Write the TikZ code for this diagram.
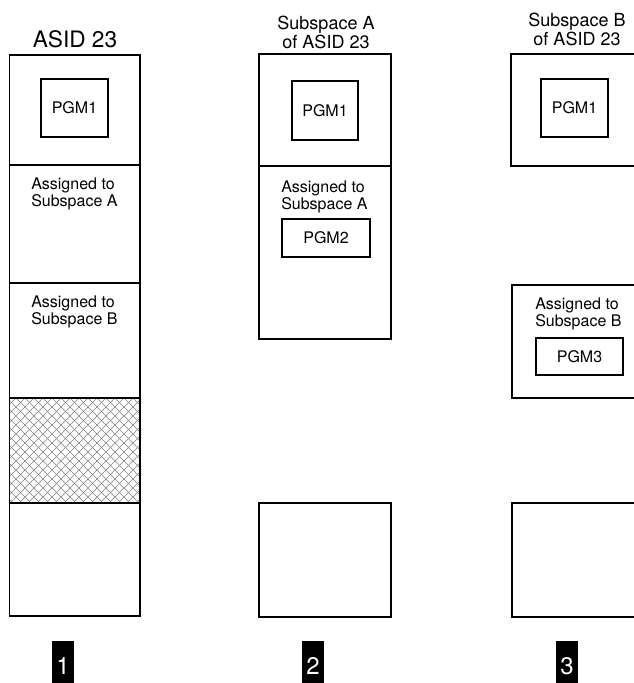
\documentclass[tikz,border=0pt]{standalone}
\usepackage{fontspec}
\setmainfont{TeX Gyre Heros}
\usepackage{tikz}

\begin{document}
\begin{tikzpicture}[x=0.75pt, y=-0.75pt,
    frame/.style={line width=1.1pt},
    hatch/.style={black!50, line width=0.45pt},
    pgmbox/.style={draw, line width=1pt, inner sep=0pt, font=\fontsize{12}{14}\selectfont},
    assigned/.style={anchor=north west, align=left, inner sep=0pt, font=\fontsize{12}{12.75}\selectfont},
    heading/.style={anchor=north, align=center, inner sep=0pt, font=\fontsize{13.5}{12.5}\selectfont},
    callout/.style={fill=black, text=white, inner sep=0pt, minimum width=16.5pt,
      minimum height=37.5pt, font=\fontsize{18}{18}\selectfont}]
  \useasboundingbox (0,0) rectangle (634,683);
  \clip (0,0) rectangle (634,683);
  % ---------------- column 1: ASID 23 ----------------
  \node[anchor=north, inner sep=0pt, font=\fontsize{17}{18}\selectfont] (asid) at (75,30) {ASID 23};
  \begin{scope}
    \clip (9.5,398) rectangle (140,503);
    \foreach \i in {-110,-101,...,250} {
      \draw[hatch] (\i,398) -- ++(105,105);
      \draw[hatch] (\i,398) -- ++(-105,105);
    }
  \end{scope}
  \draw[frame] (9.5,55) rectangle (140,616);
  \draw[frame] (9.5,165) -- (140,165);
  \draw[frame] (9.5,283) -- (140,283);
  \draw[frame] (9.5,398) -- (140,398);
  \draw[frame] (9.5,503) -- (140,503);
  \node[pgmbox, minimum width=50.25pt, minimum height=43.5pt] (pgmOne) at (74.5,108) {PGM1};
  \node[assigned] (asgA) at (31,178) {Assigned to\\Subspace A};
  \node[assigned] (asgB) at (31,296) {Assigned to\\Subspace B};
  % ---------------- column 2: subspace A ----------------
  \node[heading] (titleA) at (326,16) {Subspace A\\of ASID 23};
  \draw[frame] (259,54) rectangle (391,339);
  \draw[frame] (259,166) -- (391,166);
  \draw[frame] (259,503) rectangle (391,617);
  \node[pgmbox, minimum width=49.5pt, minimum height=44.25pt] (pgmOneA) at (325,110.5) {PGM1};
  \node[assigned] (asgSubA) at (281,181) {Assigned to\\Subspace A};
  \node[pgmbox, minimum width=66pt, minimum height=28.5pt] (pgmTwo) at (326,238) {PGM2};
  % ---------------- column 3: subspace B ----------------
  \node[heading] (titleB) at (577,13) {Subspace B\\of ASID 23};
  \draw[frame] (511,54) rectangle (643,166);
  \draw[frame] (512,285) rectangle (643,398);
  \draw[frame] (512,503) rectangle (643,617);
  \node[pgmbox, minimum width=50.25pt, minimum height=43.5pt] (pgmOneB) at (574.5,108) {PGM1};
  \node[assigned] (asgSubB) at (535,298) {Assigned to\\Subspace B};
  \node[pgmbox, minimum width=65.25pt, minimum height=27.75pt] (pgmThree) at (579.5,356.5) {PGM3};
  % ---------------- callouts ----------------
  \node[callout] (numOne) at (63,666) {1};
  \node[callout] (numTwo) at (313,666) {2};
  \node[callout] (numThree) at (567,666) {3};
\end{tikzpicture}
\end{document}
